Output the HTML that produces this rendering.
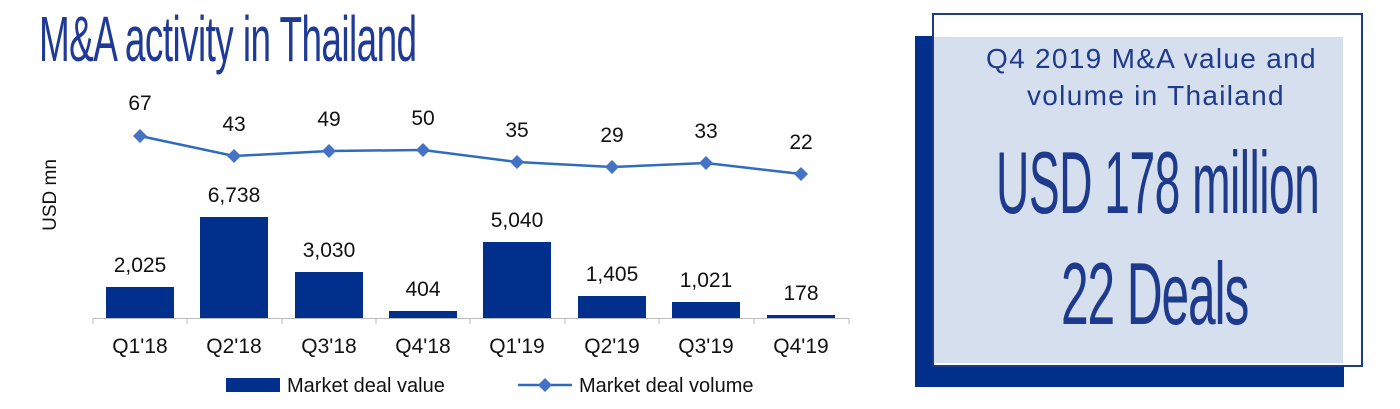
<!DOCTYPE html>
<html><head><meta charset="utf-8"><style>
body{margin:0;width:1400px;height:409px;background:#fff;overflow:hidden;position:relative;font-family:"Liberation Sans",sans-serif}
.t{position:absolute;white-space:nowrap;transform-origin:0 0}
</style></head><body>
<div class="t" style="left:39px;top:2px;font-size:64px;color:#1e3a96;transform:scaleX(0.577);letter-spacing:-1px">M&amp;A activity in Thailand</div>
<svg width="900" height="409" style="position:absolute;left:0;top:0" font-family="Liberation Sans, sans-serif" font-size="20" fill="#111">
<text transform="translate(56,195) rotate(-90)" text-anchor="middle" font-size="19">USD mn</text>
<g fill="#00308c">
<rect x="106" y="287" width="68" height="31"/>
<rect x="200" y="217" width="68" height="101"/>
<rect x="295" y="272" width="68" height="46"/>
<rect x="389" y="311" width="68" height="7"/>
<rect x="483" y="242" width="68" height="76"/>
<rect x="578" y="296" width="68" height="22"/>
<rect x="672" y="302" width="68" height="16"/>
<rect x="767" y="315" width="68" height="3"/>
</g>
<line x1="93" y1="318.5" x2="849" y2="318.5" stroke="#bbb" stroke-width="1"/>
<g stroke="#bbb"><line x1="93" y1="318" x2="93" y2="324"/><line x1="187" y1="318" x2="187" y2="324"/><line x1="282" y1="318" x2="282" y2="324"/><line x1="376" y1="318" x2="376" y2="324"/><line x1="470" y1="318" x2="470" y2="324"/><line x1="565" y1="318" x2="565" y2="324"/><line x1="659" y1="318" x2="659" y2="324"/><line x1="754" y1="318" x2="754" y2="324"/><line x1="849" y1="318" x2="849" y2="324"/></g>
<g text-anchor="middle" font-size="21">
<text x="140" y="272">2,025</text><text x="234" y="202">6,738</text><text x="329" y="257">3,030</text><text x="423" y="296">404</text>
<text x="517" y="227">5,040</text><text x="612" y="281">1,405</text><text x="706" y="287">1,021</text><text x="801" y="300">178</text>
<text x="140" y="110">67</text><text x="234" y="131">43</text><text x="329" y="126">49</text><text x="423" y="125">50</text>
<text x="517" y="137">35</text><text x="612" y="142">29</text><text x="706" y="138">33</text><text x="801" y="149">22</text>
<text x="140" y="353">Q1'18</text><text x="234" y="353">Q2'18</text><text x="329" y="353">Q3'18</text><text x="423" y="353">Q4'18</text>
<text x="517" y="353">Q1'19</text><text x="612" y="353">Q2'19</text><text x="706" y="353">Q3'19</text><text x="801" y="353">Q4'19</text>
</g>
<polyline points="140,136 234,156 329,151 423,150 517,162 612,167 706,163 801,174" fill="none" stroke="#2f6bc0" stroke-width="2.5"/>
<g fill="#4472c4">
<path d="M140 129l7 7-7 7-7-7z"/><path d="M234 149l7 7-7 7-7-7z"/><path d="M329 144l7 7-7 7-7-7z"/><path d="M423 143l7 7-7 7-7-7z"/>
<path d="M517 155l7 7-7 7-7-7z"/><path d="M612 160l7 7-7 7-7-7z"/><path d="M706 156l7 7-7 7-7-7z"/><path d="M801 167l7 7-7 7-7-7z"/>
</g>
<rect x="226" y="378" width="54" height="14" fill="#00308c"/>
<text x="287" y="392" font-size="20">Market deal value</text>
<line x1="518" y1="385" x2="572" y2="385" stroke="#2f6bc0" stroke-width="2.5"/>
<path d="M545 378l7 7-7 7-7-7z" fill="#4472c4"/>
<text x="579" y="392" font-size="20">Market deal volume</text>
</svg>
<div style="position:absolute;left:915px;top:36px;width:429px;height:351px;background:#00308c"></div>
<div style="position:absolute;left:932px;top:13px;width:427px;height:350px;border:2px solid #1e3a8c;background:#fff"></div>
<div style="position:absolute;left:934px;top:37px;width:409px;height:326px;background:#d6dfed"></div>
<div class="t" style="left:986px;top:43px;font-size:28px;color:#1e3a8c;letter-spacing:1.3px">Q4 2019 M&amp;A value and</div>
<div class="t" style="left:1027px;top:80px;font-size:28px;color:#1e3a8c;letter-spacing:1.3px">volume in Thailand</div>
<div class="t" style="left:996px;top:132px;font-size:88px;color:#1e3a8c;transform:scaleX(0.525);letter-spacing:-1px">USD 178 million</div>
<div class="t" style="left:1061px;top:243px;font-size:88px;color:#1e3a8c;transform:scaleX(0.565);letter-spacing:-2px">22 Deals</div>
</body></html>
